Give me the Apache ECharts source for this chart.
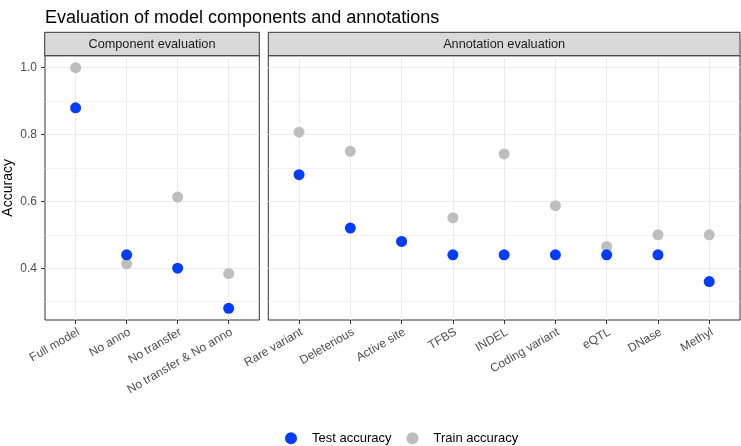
<!DOCTYPE html>
<html><head><meta charset="utf-8">
<script src="https://cdn.jsdelivr.net/npm/echarts@6/dist/echarts.min.js"></script>
<style>html,body{margin:0;padding:0;background:#fff}#c{width:741px;height:446px}</style>
</head><body><div id="c"></div>
<script>
const componentCategories = ['Full model', 'No anno', 'No transfer', 'No transfer & No anno'];
const componentTest = [0.88, 0.44, 0.40, 0.28];
const componentTrain = [1.0, 0.413, 0.613, 0.384];
const annotationCategories = ['Rare variant', 'Deleterious', 'Active site', 'TFBS', 'INDEL', 'Coding variant', 'eQTL', 'DNase', 'Methyl'];
const annotationTest = [0.68, 0.52, 0.48, 0.44, 0.44, 0.44, 0.44, 0.44, 0.36];
const annotationTrain = [0.807, 0.75, 0.48, 0.551, 0.742, 0.587, 0.465, 0.5, 0.5];
const yTicks = [0.4, 0.6, 0.8, 1.0];
const yMinorLines = [0.3, 0.5, 0.7, 0.9];
const panelTitles = ['Component evaluation', 'Annotation evaluation'];
const seriesNames = ['Test accuracy', 'Train accuracy'];

const FONT = "'Liberation Sans', Arial, Helvetica, sans-serif";
const BLUE = '#003DFF', GREY = '#BEBEBE';
const Y_MIN = 0.245, Y_MAX = 1.036;

const panels = [
  {cats: componentCategories, test: componentTest, train: componentTrain, left: 44.7, width: 214.6},
  {cats: annotationCategories, test: annotationTest, train: annotationTrain, left: 268.3, width: 471.7}
];
const TOP = 55.7, HEIGHT = 264.3;

const chart = echarts.init(document.getElementById('c'), null, {renderer: 'canvas'});
const grid = [], xAxis = [], yAxis = [], series = [], graphic = [];

panels.forEach((p, i) => {
  const idx = p.cats.map((_, k) => k + 1);
  grid.push({left: p.left, top: TOP, width: p.width, height: HEIGHT, show: true,
    borderColor: '#333333', borderWidth: 1, backgroundColor: 'transparent', containLabel: false});
  xAxis.push({type: 'value', gridIndex: i, min: 0.4, max: p.cats.length + 0.6,
    axisLine: {show: false}, splitLine: {show: false},
    axisTick: {show: true, customValues: idx, length: 4, lineStyle: {color: '#333333', width: 1}},
    axisLabel: {show: true, customValues: idx, rotate: 30, margin: 6, verticalAlign: 'top', align: 'right',
      color: '#4D4D4D', fontSize: 12, fontFamily: FONT,
      formatter: v => p.cats[Math.round(v) - 1]}});
  yAxis.push({type: 'value', gridIndex: i, min: Y_MIN, max: Y_MAX,
    axisLine: {show: false}, splitLine: {show: false},
    name: i === 0 ? 'Accuracy' : '', nameLocation: 'middle', nameGap: 30,
    nameTextStyle: {color: '#000', fontSize: 14, fontFamily: FONT},
    axisTick: {show: i === 0, customValues: yTicks, length: 4, lineStyle: {color: '#333333', width: 1}},
    axisLabel: {show: i === 0, customValues: yTicks, margin: 8, color: '#4D4D4D', fontSize: 12, fontFamily: FONT,
      formatter: v => v.toFixed(1)}});
  // gridlines
  series.push({type: 'scatter', xAxisIndex: i, yAxisIndex: i, data: [], silent: true, z: 1,
    markLine: {silent: true, symbol: 'none', animation: false, z: 1, label: {show: false},
      data: [
        ...yMinorLines.map(v => ({yAxis: v, lineStyle: {color: '#EBEBEB', width: 0.6, type: 'solid'}})),
        ...yTicks.map(v => ({yAxis: v, lineStyle: {color: '#EBEBEB', width: 1.1, type: 'solid'}})),
        ...idx.map(v => ({xAxis: v, lineStyle: {color: '#EBEBEB', width: 1.1, type: 'solid'}}))
      ]}});
  series.push({type: 'scatter', name: seriesNames[1], xAxisIndex: i, yAxisIndex: i, z: 10,
    symbolSize: 11, itemStyle: {color: GREY, opacity: 1}, animation: false,
    data: p.train.map((v, k) => [k + 1, v])});
  series.push({type: 'scatter', name: seriesNames[0], xAxisIndex: i, yAxisIndex: i, z: 11,
    symbolSize: 11, itemStyle: {color: BLUE, opacity: 1}, animation: false,
    data: p.test.map((v, k) => [k + 1, v])});
  // strip header
  graphic.push({type: 'rect', shape: {x: p.left, y: 32.3, width: p.width, height: TOP - 32.3},
    style: {fill: '#D9D9D9', stroke: '#333333', lineWidth: 1}, z: 100});
  graphic.push({type: 'text', x: p.left + p.width / 2, y: (32.3 + TOP) / 2,
    style: {text: panelTitles[i], fill: '#1A1A1A', fontSize: 12.7, fontFamily: FONT, align: 'center', verticalAlign: 'middle'}, z: 101});
});

chart.setOption({
  animation: false,
  backgroundColor: '#ffffff',
  title: {text: 'Evaluation of model components and annotations', left: 40, top: 4,
    textStyle: {color: '#000', fontSize: 18, fontWeight: 'normal', fontFamily: FONT}},
  legend: {data: seriesNames, left: 285, top: 431.7, padding: 0, icon: 'circle', itemWidth: 12, itemHeight: 12, itemGap: 15,
    textStyle: {color: '#000', fontSize: 13, fontFamily: FONT, padding: [0, 0, 0, 10]}},
  grid, xAxis, yAxis, series, graphic
});
</script></body></html>
